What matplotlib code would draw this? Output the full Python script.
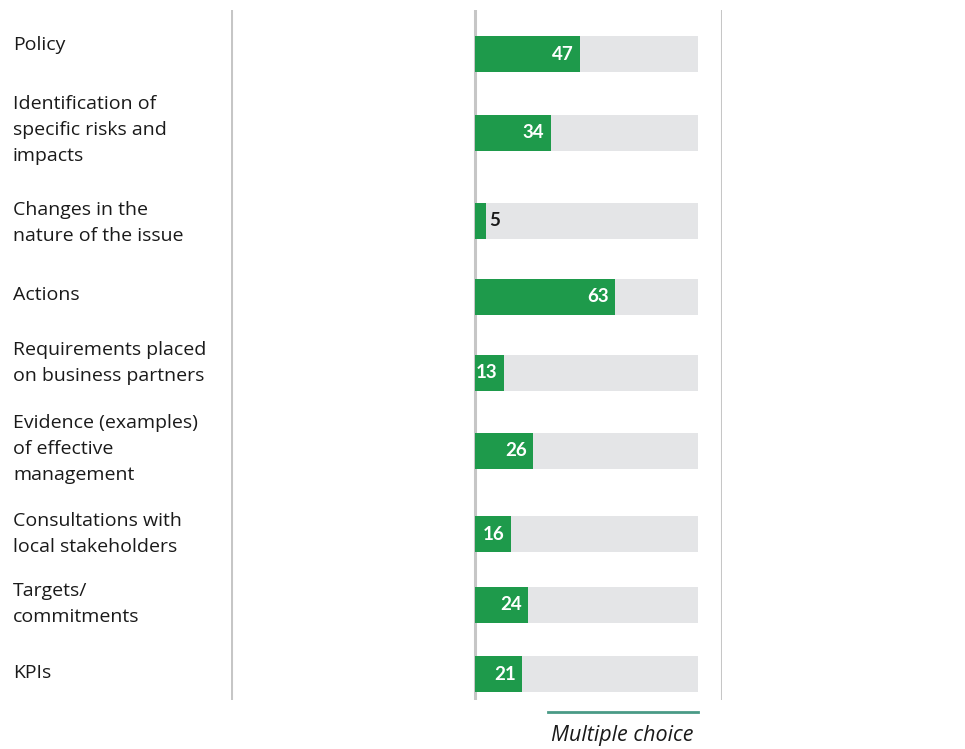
import matplotlib
matplotlib.use("Agg")
import matplotlib.pyplot as plt
from matplotlib.transforms import blended_transform_factory

plt.rcParams['font.family'] = ['Open Sans', 'DejaVu Sans']

# data
labels = [
    "Policy",
    "Identification of\nspecific risks and\nimpacts",
    "Changes in the\nnature of the issue",
    "Actions",
    "Requirements placed\non business partners",
    "Evidence (examples)\nof effective\nmanagement",
    "Consultations with\nlocal stakeholders",
    "Targets/\ncommitments",
    "KPIs",
]
values = [47, 34, 5, 63, 13, 26, 16, 24, 21]
footnote = "Multiple choice"

# layout (pixel rows of the reference, top = 10, bottom = 700)
bar_y = [54, 133, 221, 297, 373, 451, 534, 605, 674]
label_y = [45, 130, 223, 295, 363, 449, 534, 604, 673]

green = "#1e9a4b"
track = "#e4e5e7"
rule = "#c6c6c6"

fig = plt.figure(figsize=(9.65, 7.49), dpi=100)
ax = fig.add_axes([231 / 965, 1 - 700 / 749, (722 - 231) / 965, 690 / 749])
ax.set_xlim(-109.4, 110.8)
ax.set_ylim(700, 10)
ax.axis("off")

ax.barh(bar_y, [100] * len(values), height=36, color=track, left=0)
ax.barh(bar_y, values, height=36, color=green, left=0)

for x in (-109.4, 0, 110.8):
    ax.axvline(x, color=rule, lw=2.2, zorder=0)

for y, v in zip(bar_y, values):
    if v >= 10:
        ax.text(v - 2.8, y, str(v), ha="right", va="center", color="white",
                fontsize=13.5, fontweight="bold", family="Lato")
    else:
        ax.text(v + 1.3, y, str(v), ha="left", va="center", color="#1a1a1a",
                fontsize=13.5, fontweight="bold", family="Lato")

tr = blended_transform_factory(fig.transFigure, ax.transData)
for y, lab in zip(label_y, labels):
    ax.text(13 / 965, y, lab, transform=tr, ha="left", va="center",
            fontsize=14, color="#1a1a1a", linespacing=1.6)

ax.plot([32.7, 100], [712, 712], color="#4a9a86", lw=2, clip_on=False)
ax.text(98.2, 735, footnote, ha="right", va="center", fontsize=15.5,
        style="italic", color="#1a1a1a", clip_on=False)

fig.savefig("out.png", dpi=100)
